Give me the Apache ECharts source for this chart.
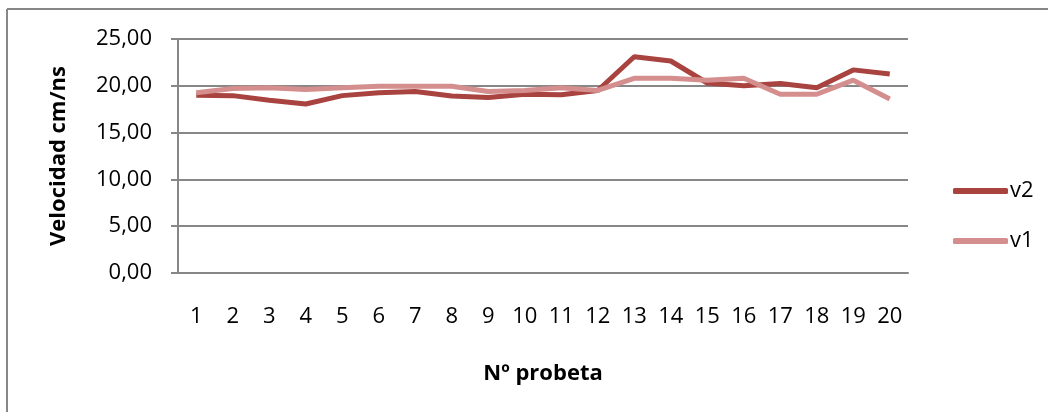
<!DOCTYPE html>
<html>
<head>
<meta charset="utf-8">
<script src="https://cdn.jsdelivr.net/npm/echarts@6/dist/echarts.min.js"></script>
<style>
  html, body { margin: 0; padding: 0; background: #fff; }
  #chart { width: 1048px; height: 412px; }
</style>
</head>
<body>
<div id="chart"></div>
<script>
// datos
const probetas = ['1', '2', '3', '4', '5', '6', '7', '8', '9', '10',
  '11', '12', '13', '14', '15', '16', '17', '18', '19', '20'];
const v2 = [19.0, 18.95, 18.45, 18.05, 18.95, 19.25, 19.4, 18.9, 18.75, 19.1,
  19.05, 19.5, 23.1, 22.65, 20.3, 20.0, 20.25, 19.8, 21.7, 21.25];
const v1 = [19.25, 19.7, 19.8, 19.6, 19.8, 19.95, 19.95, 19.95, 19.4, 19.5,
  19.8, 19.5, 20.8, 20.8, 20.6, 20.8, 19.1, 19.1, 20.6, 18.6];

const FONT = 'Open Sans';
const GREY = '#878787';

const chart = echarts.init(document.getElementById('chart'));
const option = {
  backgroundColor: '#fff',
  animation: false,
  textStyle: { fontFamily: FONT },
  grid: { left: 178, right: 140, top: 39, bottom: 139 },
  legend: {
    orient: 'vertical',
    left: 948,
    top: 175,
    icon: 'roundRect',
    itemWidth: 55,
    itemHeight: 6,
    itemGap: 28,
    textStyle: { fontFamily: FONT, fontSize: 22, lineHeight: 20, color: '#000', padding: [0, 0, 0, -3] },
    data: ['v2', 'v1']
  },
  xAxis: {
    type: 'category',
    data: probetas,
    boundaryGap: true,
    name: 'Nº probeta',
    nameLocation: 'middle',
    nameGap: 90,
    nameTextStyle: { fontFamily: FONT, fontSize: 22, fontWeight: 'bold', color: '#000' },
    axisLine: { lineStyle: { color: GREY, width: 2 } },
    axisTick: { show: false },
    axisLabel: { margin: 33, fontSize: 22, color: '#000', fontFamily: FONT }
  },
  yAxis: {
    type: 'value',
    min: 0,
    max: 25,
    interval: 5,
    name: 'Velocidad cm/ns',
    nameLocation: 'middle',
    nameGap: 108,
    nameTextStyle: { fontFamily: FONT, fontSize: 22, fontWeight: 'bold', color: '#000' },
    axisLine: { show: true, lineStyle: { color: GREY, width: 2 } },
    axisTick: { show: true, length: 7, lineStyle: { color: GREY, width: 2 } },
    splitLine: { lineStyle: { color: GREY, width: 2 } },
    axisLabel: {
      margin: 26,
      fontSize: 22,
      color: '#000',
      fontFamily: FONT,
      formatter: v => v.toFixed(2).replace('.', ',')
    }
  },
  series: [
    {
      name: 'v2',
      type: 'line',
      data: v2,
      symbol: 'none',
      lineStyle: { color: '#A8433F', width: 5 },
      itemStyle: { color: '#A8433F' }
    },
    {
      name: 'v1',
      type: 'line',
      data: v1,
      symbol: 'none',
      lineStyle: { color: '#D38E8D', width: 5 },
      itemStyle: { color: '#D38E8D' }
    }
  ],
  graphic: [
    { type: 'line', shape: { x1: 7, y1: 9, x2: 1048, y2: 9 }, style: { stroke: GREY, lineWidth: 2 } },
    { type: 'line', shape: { x1: 7, y1: 9, x2: 7, y2: 412 }, style: { stroke: GREY, lineWidth: 2 } }
  ]
};
chart.setOption(option);
</script>
</body>
</html>
